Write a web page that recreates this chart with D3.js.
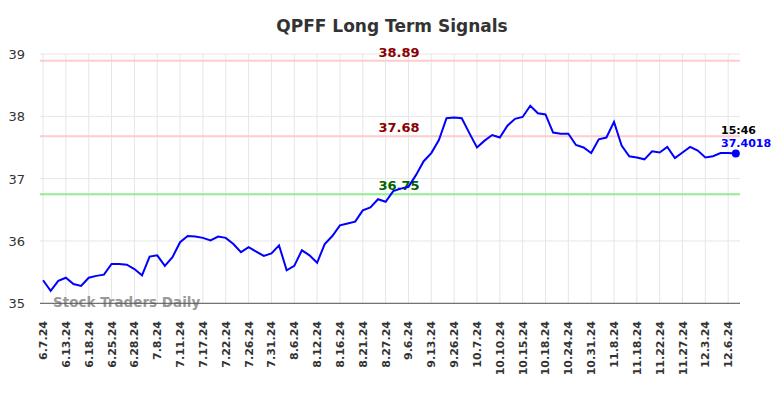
<!DOCTYPE html>
<head>
<script src="https://d3js.org/d3.v7.min.js"></script>
<meta charset="utf-8">
<style>
body { margin: 0; background: #fff; }
text { font-family: "DejaVu Sans", sans-serif; }
</style>
</head>
<body>
<svg id="chart"></svg>
<script>

// chart data
var prices = [35.37, 35.20, 35.36, 35.41, 35.31, 35.28, 35.41, 35.44, 35.46, 35.63,
  35.63, 35.62, 35.55, 35.45, 35.75, 35.77, 35.60, 35.74, 35.98, 36.08,
  36.07, 36.05, 36.01, 36.07, 36.05, 35.95, 35.82, 35.90, 35.83, 35.76,
  35.80, 35.93, 35.53, 35.60, 35.85, 35.77, 35.65, 35.95, 36.08, 36.25,
  36.28, 36.31, 36.49, 36.54, 36.67, 36.63, 36.80, 36.84, 36.87, 37.06,
  37.28, 37.41, 37.62, 37.97, 37.98, 37.97, 37.73, 37.50, 37.61, 37.70,
  37.66, 37.85, 37.96, 37.99, 38.17, 38.05, 38.03, 37.74, 37.72, 37.72,
  37.54, 37.50, 37.41, 37.63, 37.66, 37.91, 37.53, 37.36, 37.34, 37.31,
  37.44, 37.42, 37.51, 37.33, 37.42, 37.51, 37.45, 37.34, 37.36, 37.41,
  37.41, 37.4018];

var tickLabels = ["6.7.24", "6.13.24", "6.18.24", "6.25.24", "6.28.24", "7.8.24", "7.11.24",
  "7.17.24", "7.22.24", "7.26.24", "7.31.24", "8.6.24", "8.12.24", "8.16.24", "8.21.24",
  "8.27.24", "9.6.24", "9.13.24", "9.26.24", "10.7.24", "10.10.24", "10.15.24", "10.18.24",
  "10.24.24", "10.31.24", "11.8.24", "11.18.24", "11.22.24", "11.27.24", "12.3.24", "12.6.24"];
var tickStep = 3;

var yTicks = [35, 36, 37, 38, 39];

var levelValues = [38.89, 37.68, 36.75];
var levelColors = ["#ffcccc", "#ffcccc", "#90ee90"];
var levelTextColors = ["#8b0000", "#8b0000", "#006400"];

var lastTime = "15:46";

// layout
var width = 784, height = 398;
var margin = {left: 40, right: 44, top: 54, bottom: 95};

var svg = d3.select("#chart")
    .attr("width", width)
    .attr("height", height);

var x = d3.scaleLinear()
    .domain([-0.4, prices.length - 1 + 0.55])
    .range([margin.left, width - margin.right]);

var y = d3.scaleLinear()
    .domain([35, 39])
    .range([height - margin.bottom + 0.3, margin.top]);

// title
svg.append("text")
    .attr("x", 392).attr("y", 32)
    .attr("text-anchor", "middle")
    .style("font-size", "17px")
    .style("font-weight", "bold")
    .style("fill", "#333")
    .text("QPFF Long Term Signals");

// grid
var tickIdx = tickLabels.map((d, i) => i * tickStep);

svg.append("g")
    .selectAll("line")
    .data(tickIdx)
    .join("line")
    .attr("x1", d => x(d)).attr("x2", d => x(d))
    .attr("y1", y(39)).attr("y2", y(35))
    .attr("stroke", "#e6e6e6")
    .attr("stroke-width", 1);

svg.append("g")
    .selectAll("line")
    .data(yTicks)
    .join("line")
    .attr("x1", margin.left).attr("x2", width - margin.right)
    .attr("y1", d => y(d)).attr("y2", d => y(d))
    .attr("stroke", "#e6e6e6")
    .attr("stroke-width", 1);

// y labels
svg.append("g")
    .selectAll("text")
    .data(yTicks)
    .join("text")
    .attr("x", 25)
    .attr("y", d => y(d) + 5)
    .attr("text-anchor", "end")
    .style("font-size", "13px")
    .style("fill", "#333")
    .text(d => d);

// level lines
svg.append("g")
    .selectAll("line")
    .data(levelValues)
    .join("line")
    .attr("x1", margin.left).attr("x2", width - margin.right)
    .attr("y1", d => y(d)).attr("y2", d => y(d))
    .attr("stroke", (d, i) => levelColors[i])
    .attr("stroke-width", 2);

svg.append("g")
    .selectAll("text")
    .data(levelValues)
    .join("text")
    .attr("x", 399)
    .attr("y", d => y(d) - 4)
    .attr("text-anchor", "middle")
    .style("font-size", "13px")
    .style("font-weight", "bold")
    .style("fill", (d, i) => levelTextColors[i])
    .text(d => d.toFixed(2));

// watermark
svg.append("text")
    .attr("x", 53).attr("y", 307)
    .style("font-size", "13.5px")
    .style("font-weight", "bold")
    .style("fill", "#999")
    .text("Stock Traders Daily");

// x axis
svg.append("line")
    .attr("x1", margin.left).attr("x2", width - margin.right)
    .attr("y1", y(35)).attr("y2", y(35))
    .attr("stroke", "#555")
    .attr("stroke-width", 1);

svg.append("g")
    .selectAll("text")
    .data(tickIdx)
    .join("text")
    .attr("transform", d => "translate(" + (x(d) + 4) + "," + 321 + ") rotate(-90)")
    .attr("text-anchor", "end")
    .style("font-size", "11px")
    .style("font-weight", "bold")
    .style("fill", "#333")
    .text((d, i) => tickLabels[i]);

// price line
var line = d3.line()
    .x((d, i) => x(i))
    .y(d => y(d));

svg.append("path")
    .datum(prices)
    .attr("d", line)
    .attr("fill", "none")
    .attr("stroke", "blue")
    .attr("stroke-width", 2);

var lastI = prices.length - 1;
svg.append("circle")
    .attr("cx", x(lastI))
    .attr("cy", y(prices[lastI]))
    .attr("r", 4)
    .attr("fill", "blue");

svg.append("text")
    .attr("x", 721).attr("y", 134)
    .style("font-size", "11px")
    .style("font-weight", "bold")
    .style("fill", "#000")
    .text(lastTime);

svg.append("text")
    .attr("x", 721).attr("y", 147)
    .style("font-size", "11px")
    .style("font-weight", "bold")
    .style("fill", "blue")
    .text(prices[lastI]);

</script>
</body>
